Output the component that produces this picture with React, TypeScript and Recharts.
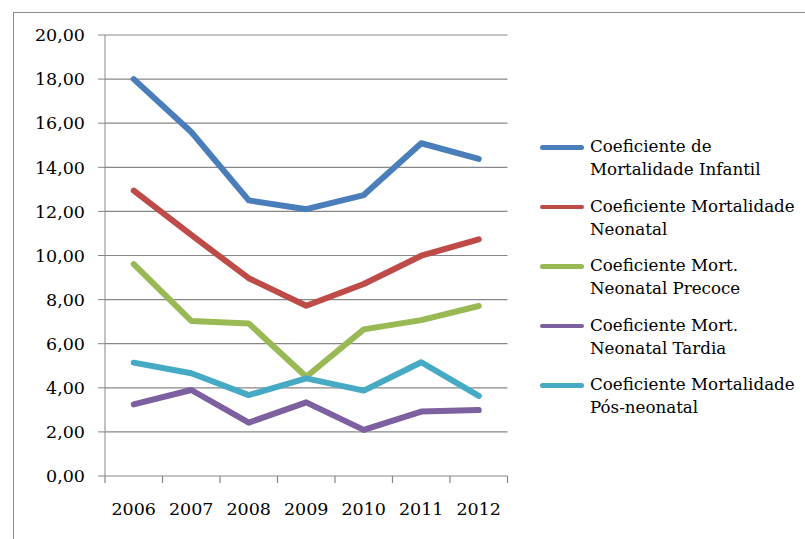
import React from 'react';
import { LineChart, Line, XAxis, YAxis, CartesianGrid, Legend } from 'recharts';

// Anos da série histórica
const years = ['2006', '2007', '2008', '2009', '2010', '2011', '2012'];

// Coeficientes por ano
const infantil = [18.0, 15.6, 12.5, 12.1, 12.74, 15.09, 14.38];
const neonatal = [12.94, 10.93, 8.97, 7.72, 8.71, 9.99, 10.73];
const neonatalPrecoce = [9.61, 7.03, 6.92, 4.5, 6.65, 7.07, 7.71];
const neonatalTardia = [3.25, 3.9, 2.42, 3.34, 2.09, 2.92, 2.99];
const posNeonatal = [5.14, 4.66, 3.67, 4.43, 3.87, 5.16, 3.63];

const yTicks = [0, 2, 4, 6, 8, 10, 12, 14, 16, 18, 20];
const edgeTicks = [0, 1, 2, 3, 4, 5, 6, 7];

const series = [
  { key: 'infantil', name: 'Coeficiente de Mortalidade Infantil', color: '#4a7ebb', values: infantil },
  { key: 'neonatal', name: 'Coeficiente Mortalidade Neonatal', color: '#be4b48', values: neonatal },
  { key: 'precoce', name: 'Coeficiente Mort. Neonatal Precoce', color: '#98b954', values: neonatalPrecoce },
  { key: 'tardia', name: 'Coeficiente Mort. Neonatal Tardia', color: '#7d60a0', values: neonatalTardia },
  { key: 'pos', name: 'Coeficiente Mortalidade Pós-neonatal', color: '#46aac5', values: posNeonatal },
];

const rows = years.map((year, i) => {
  const row: Record<string, string | number> = { year, slot: i + 0.5 };
  series.forEach((s) => {
    row[s.key] = s.values[i];
  });
  return row;
});

const FONT = '"DejaVu Serif", serif';
const GRID = '#878787';

const fmt = (v: number) => v.toFixed(2).replace('.', ',');

// Excel-style tick marks on the category boundaries
const EdgeTick = (props: any) => (
  <line x1={props.x} x2={props.x} y1={props.y} y2={props.y + 7} stroke={GRID} strokeWidth={1.2} />
);

const renderLegend = () => (
  <div>
    {series.map((s) => (
      <div key={s.key} style={{ display: 'flex', alignItems: 'flex-start', marginBottom: 13.5 }}>
        <span
          style={{
            display: 'block',
            width: 44,
            height: 4.5,
            marginTop: 10.2,
            borderRadius: 2.5,
            background: s.color,
            flex: '0 0 auto',
          }}
        />
        <span
          style={{
            display: 'block',
            marginLeft: 6,
            width: 212,
            fontFamily: FONT,
            fontSize: 16.7,
            lineHeight: '23px',
            color: '#000',
          }}
        >
          {s.name}
        </span>
      </div>
    ))}
  </div>
);

export default function App() {
  return (
    <div
      style={{
        position: 'absolute',
        left: 0,
        top: 0,
        width: 805,
        height: 539,
        overflow: 'hidden',
        background: '#fff',
      }}
    >
      <div
        style={{
          position: 'absolute',
          left: 13,
          top: 12,
          width: 820,
          height: 560,
          border: '1px solid #8c8c8c',
        }}
      />
      <div style={{ position: 'absolute', left: 0, top: 0 }}>
        <LineChart
          width={805}
          height={539}
          data={rows}
          margin={{ top: 35, right: 297.5, bottom: 0, left: 0 }}
        >
          <CartesianGrid horizontal vertical={false} stroke={GRID} strokeWidth={1.2} xAxisId="year" />
          <XAxis
            xAxisId="edge"
            dataKey="slot"
            type="number"
            domain={[0, 7]}
            allowDataOverflow
            ticks={edgeTicks}
            interval={0}
            height={7}
            tick={EdgeTick}
            tickLine={false}
            tickSize={0}
            tickMargin={0}
            axisLine={false}
          />
          <XAxis
            xAxisId="year"
            dataKey="year"
            padding={{ left: 28.75, right: 28.75 }}
            height={56}
            interval={0}
            tickLine={false}
            axisLine={false}
            tickSize={0}
            tickMargin={20}
            tick={{ fill: '#000', fontSize: 17.5, fontFamily: FONT }}
          />
          <YAxis
            domain={[0, 20]}
            ticks={yTicks}
            interval={0}
            width={105}
            tickFormatter={fmt}
            tickSize={7}
            tickMargin={13}
            stroke={GRID}
            tick={{ fill: '#000', fontSize: 17.5, fontFamily: FONT }}
          />
          <Legend
            layout="vertical"
            align="center"
            verticalAlign="middle"
            wrapperStyle={{ left: 540, top: 135, width: 265 }}
            content={renderLegend}
          />
          {series.map((s) => (
            <Line
              key={s.key}
              xAxisId="year"
              dataKey={s.key}
              name={s.name}
              stroke={s.color}
              strokeWidth={6}
              strokeLinecap="round"
              strokeLinejoin="round"
              dot={false}
              activeDot={false}
              isAnimationActive={false}
            />
          ))}
        </LineChart>
      </div>
    </div>
  );
}
